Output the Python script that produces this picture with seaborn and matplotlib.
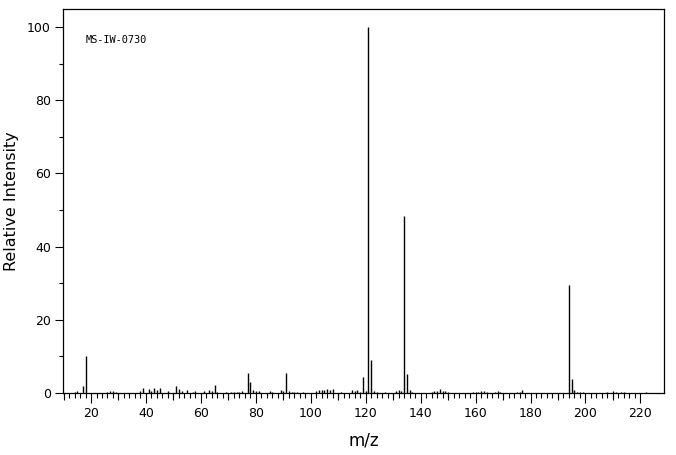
import matplotlib
matplotlib.use("Agg")
import matplotlib.pyplot as plt
import seaborn as sns
import numpy as np

# m/z values and relative intensities
mz = [14, 15, 17, 18, 26, 27, 28, 29, 38, 39, 41, 42, 43, 44, 45, 48,
      51, 52, 53, 55, 57, 58, 61, 63, 64, 65, 66, 69, 71, 72, 73, 74, 75,
      77, 78, 79, 80, 81, 85, 86, 89, 90, 91, 92, 93, 94, 95, 97,
      102, 103, 104, 105, 106, 107, 108, 111, 115, 116, 117, 118, 119, 120,
      121, 122, 123, 124, 127, 131, 132, 133, 134, 135, 136, 137,
      144, 145, 146, 147, 148, 149, 150, 159, 160, 161, 162, 163, 164,
      167, 168, 169, 175, 176, 177, 194, 195, 196, 197, 198, 199,
      208, 210, 211, 213, 214, 222]
intensity = [0.4, 0.5, 2.0, 10.0, 0.4, 0.6, 0.5, 0.4, 0.5, 1.5, 1.0, 0.5, 1.5, 0.8, 1.5, 0.5,
             1.8, 1.0, 0.6, 0.8, 0.4, 0.5, 0.5, 0.8, 0.6, 2.3, 0.4, 0.4, 0.4, 0.4, 0.4, 0.4, 0.5,
             5.6, 3.1, 0.8, 0.5, 0.5, 0.5, 0.4, 0.8, 0.6, 5.6, 0.6, 0.4, 0.4, 0.4, 0.4,
             0.6, 0.9, 0.7, 0.9, 1.0, 0.8, 1.0, 0.4, 0.8, 0.5, 0.8, 0.4, 4.3, 0.5,
             100.0, 9.1, 0.6, 0.4, 0.4, 0.6, 0.9, 0.6, 48.3, 5.3, 0.8, 0.4,
             0.4, 0.5, 0.5, 1.0, 0.6, 0.5, 0.4, 0.3, 0.4, 0.4, 0.5, 0.5, 0.4,
             0.4, 0.5, 0.4, 0.4, 0.4, 0.9, 29.6, 3.9, 0.9, 0.4, 0.4, 0.3,
             0.3, 0.5, 0.4, 0.4, 0.3, 0.3]

x_major = list(range(20, 221, 20))
x_labels = [str(v) for v in x_major]
x_mid = list(range(10, 221, 20))
x_minor = list(range(10, 221, 2))
y_major = [0, 20, 40, 60, 80, 100]
y_minor = [10, 30, 50, 70, 90]

sns.set_theme(style="ticks")
plt.rcParams['font.family'] = ['DejaVu Sans']

fig = plt.figure(figsize=(6.76, 4.55), dpi=100)
ax = fig.add_axes([63 / 676, 1 - 393 / 455, 601 / 676, 384 / 455])

ax.vlines(mz, 0, intensity, colors="black", linewidth=1.0)

ax.set_xlim(9.8, 228.6)
ax.set_ylim(0, 104.9)

ax.set_xticks(x_major)
ax.set_xticklabels(x_labels)
ax.set_xticks(x_minor, minor=True)
ax.set_yticks(y_major)
ax.set_yticks(y_minor, minor=True)

ax.tick_params(axis="x", which="major", direction="out", length=7.2, width=0.8,
               color="black", labelsize=9, pad=3, labelcolor="black")
ax.tick_params(axis="x", which="minor", direction="out", length=3.8, width=0.8,
               color="black")
ax.tick_params(axis="y", which="major", direction="out", length=5.8, width=0.8,
               color="black", labelsize=9, pad=3, labelcolor="black")
ax.tick_params(axis="y", which="minor", direction="out", length=3.0, width=0.8,
               color="black")

sec = ax.secondary_xaxis("bottom")
sec.set_xticks(x_mid)
sec.set_xticklabels([""] * len(x_mid))
sec.tick_params(axis="x", which="major", direction="out", length=5.2, width=0.8, color="black")
sec.spines["bottom"].set_visible(False)

for s in ax.spines.values():
    s.set_color("black")
    s.set_linewidth(0.9)
    s.set_visible(True)

ax.set_xlabel("m/z", fontsize=12, color="black", labelpad=8)
ax.set_ylabel("Relative Intensity", fontsize=11.5, color="black", labelpad=6)

ax.text(0.038, 0.918, "MS-IW-0730", transform=ax.transAxes, fontsize=7.4,
        family="DejaVu Sans Mono", va="center", ha="left", color="black")

ax.set_facecolor("white")
fig.patch.set_facecolor("white")
fig.savefig("out.png", dpi=100, facecolor="white")
